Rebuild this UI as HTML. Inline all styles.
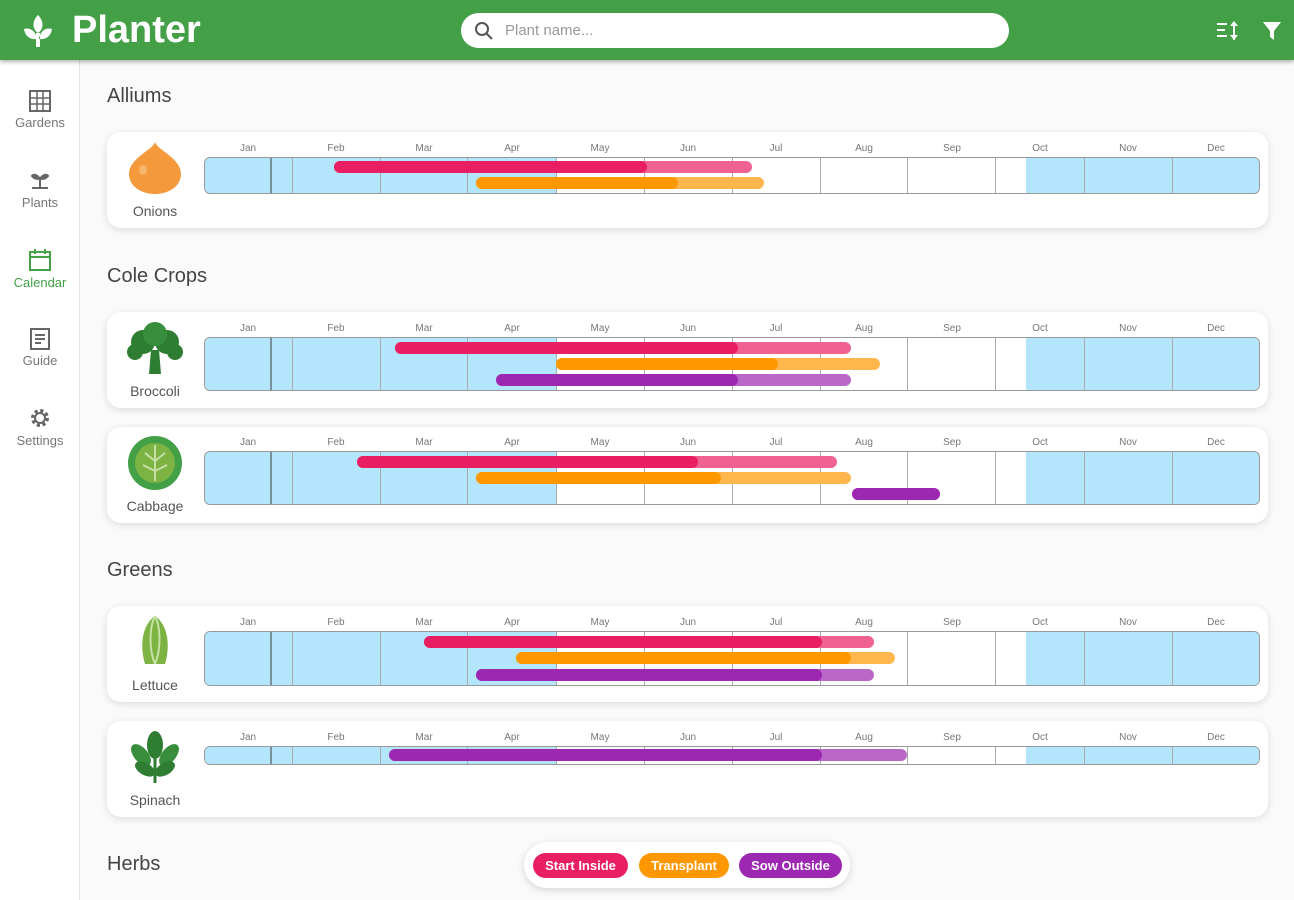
<!DOCTYPE html>
<html><head><meta charset="utf-8"><style>
*{box-sizing:border-box;margin:0;padding:0}
body{width:1294px;height:900px;overflow:hidden;background:#fafafa;font-family:"Liberation Sans",sans-serif;position:relative}
.hdr{position:absolute;left:0;top:0;width:1294px;height:60px;background:#43a047;box-shadow:0 2px 4px rgba(0,0,0,.3);z-index:5}
.logo{position:absolute;left:72px;top:9px;color:#fff;font-weight:bold;font-size:38px}
.search{position:absolute;left:461px;top:13px;width:548px;height:35px;background:#fff;border-radius:18px}
.search span{position:absolute;left:44px;top:9px;color:#999;font-size:15px}
.side{position:absolute;left:0;top:60px;width:80px;height:840px;background:#fff;border-right:1px solid #e4e4e4}
.nav{position:absolute;left:0;width:80px;text-align:center;font-size:13px;color:#777}
.h{position:absolute;left:107px;font-size:20px;color:#444}
.card{position:absolute;left:107px;width:1161px;background:#fff;border-radius:14px;box-shadow:0 2px 8px rgba(0,0,0,.12)}
.pl{position:absolute;width:96px;text-align:center;font-size:14px;color:#555}
.track{position:absolute;left:204px;width:1056px;border:1px solid #999;border-radius:6px;overflow:hidden;background:#fff}
.ml{position:absolute;font-size:10px;color:#777;width:40px;text-align:center}
.bar{position:absolute;height:12px;border-radius:6px}
.leg{position:absolute;left:524px;top:842px;width:326px;height:46px;background:#fff;border-radius:23px;box-shadow:0 2px 8px rgba(0,0,0,.15)}
.pill{position:absolute;top:11px;height:25px;border-radius:13px;color:#fff;font-size:13px;font-weight:bold;text-align:center;line-height:25px}
</style></head><body>
<div class="hdr">
<svg style="position:absolute;left:22px;top:13px" width="32" height="36" viewBox="0 0 32 36"><path d="M16 2 C10 8 10 16 16 20 C22 16 22 8 16 2Z M14 20h4v14h-4z M2 16 C8 14 14 18 15 26 C8 27 3 23 2 16Z M30 16 C24 14 18 18 17 26 C24 27 29 23 30 16Z" fill="#fff"/></svg>
<div class="logo">Planter</div>
<div class="search"><svg style="position:absolute;left:13px;top:8px" width="20" height="20"><circle cx="8" cy="8" r="6" stroke="#555" stroke-width="2" fill="none"/><line x1="12.5" y1="12.5" x2="18" y2="18" stroke="#555" stroke-width="2"/></svg><span>Plant name...</span></div>
<svg style="position:absolute;left:1216px;top:20px" width="26" height="22"><g stroke="#fff" stroke-width="2"><line x1="1" y1="4" x2="11" y2="4"/><line x1="1" y1="10" x2="9" y2="10"/><line x1="1" y1="16" x2="11" y2="16"/><line x1="18" y1="2" x2="18" y2="20"/></g><path d="M14 6l4-5 4 5zM14 15l4 5 4-5z" fill="#fff"/></svg>
<svg style="position:absolute;left:1262px;top:20px" width="20" height="22"><path d="M1 2h18l-7 9v9l-4-3v-6z" fill="#fff"/></svg>
</div>
<div class="side">
<div class="nav" style="top:30px"><svg width="24" height="22"><rect x="2" y="1" width="20" height="20" fill="none" stroke="#666" stroke-width="2"/><path d="M2 8h20M2 14h20M9 1v20M15 1v20" stroke="#666" stroke-width="1.5"/></svg><br>Gardens</div>
<div class="nav" style="top:110px"><svg width="24" height="22"><path d="M12 8v10M4 18h16M12 9C9 4 5 4 4 6c2 3 5 3 8 3zM12 9c3-5 7-5 8-3-2 3-5 3-8 3z" stroke="#666" stroke-width="2" fill="#666"/></svg><br>Plants</div>
<div class="nav" style="top:188px;color:#43a047"><svg width="24" height="24"><rect x="2" y="4" width="20" height="18" fill="none" stroke="#43a047" stroke-width="2"/><path d="M2 9h20M7 1v5M17 1v5" stroke="#43a047" stroke-width="2"/></svg><br>Calendar</div>
<div class="nav" style="top:268px"><svg width="24" height="22"><rect x="3" y="1" width="18" height="20" fill="none" stroke="#666" stroke-width="2"/><path d="M7 7h10M7 11h10M7 15h6" stroke="#666" stroke-width="2"/></svg><br>Guide</div>
<div class="nav" style="top:346px"><svg width="24" height="24"><circle cx="12" cy="12" r="7" fill="none" stroke="#666" stroke-width="4" stroke-dasharray="3 2.5"/><circle cx="12" cy="12" r="5" fill="none" stroke="#666" stroke-width="2"/></svg><br>Settings</div>
</div>
<div class="h" style="top:85px">Alliums</div>
<div class="h" style="top:265px">Cole Crops</div>
<div class="h" style="top:559px">Greens</div>
<div class="h" style="top:853px">Herbs</div>
<div id="root"></div>
<div class="leg">
<div class="pill" style="left:9px;width:95px;background:#e91e63">Start Inside</div>
<div class="pill" style="left:115px;width:90px;background:#ff9800">Transplant</div>
<div class="pill" style="left:215px;width:103px;background:#9c27b0">Sow Outside</div>
</div>
<script>
var M=["Jan","Feb","Mar","Apr","May","Jun","Jul","Aug","Sep","Oct","Nov","Dec"];
var lines=[292,380,467,556,644,732,820,907,995,1084,1172];
var C={p:["#e91e63","#f06292"],o:["#ff9800","#ffb74d"],u:["#9c27b0","#ba68c8"]};
var rows=[
{n:"Onions",cy:132,ty:157,th:37,ic:"onion",b:[["p",167,334,647,752],["o",183,476,678,764]]},
{n:"Broccoli",cy:312,ty:337,th:54,ic:"broc",b:[["p",348,395,738,851],["o",364,556,778,880],["u",380,496,738,851]]},
{n:"Cabbage",cy:427,ty:451,th:54,ic:"cab",b:[["p",462,357,698,837],["o",478,476,721,851],["u",494,852,940,940]]},
{n:"Lettuce",cy:606,ty:631,th:55,ic:"let",b:[["p",642,424,822,874],["o",658,516,851,895],["u",675,476,822,874]]},
{n:"Spinach",cy:721,ty:746,th:19,ic:"spin",b:[["u",755,389,822,907]]}];
var icons={
onion:'<svg width="60" height="56"><path d="M30 2C28 10 4 18 4 34c0 12 12 20 26 20s26-8 26-20C56 18 32 10 30 2z" fill="#f59a3c"/><ellipse cx="18" cy="30" rx="4" ry="5" fill="#f8b66a"/></svg>',
broc:'<svg width="60" height="56"><path d="M26 30h8l2 24h-12z" fill="#2e7d32"/><circle cx="18" cy="22" r="12" fill="#2e7d32"/><circle cx="42" cy="22" r="12" fill="#2e7d32"/><circle cx="30" cy="14" r="12" fill="#388e3c"/><circle cx="10" cy="32" r="8" fill="#2e7d32"/><circle cx="50" cy="32" r="8" fill="#2e7d32"/></svg>',
cab:'<svg width="60" height="56"><circle cx="30" cy="28" r="27" fill="#43a047"/><circle cx="30" cy="28" r="20" fill="#7cb342"/><path d="M30 10v36M30 26l-10-8M30 26l10-8M30 36l-12-6M30 36l12-6" stroke="#c5e1a5" stroke-width="2"/></svg>',
let:'<svg width="60" height="56"><path d="M30 2C18 10 14 30 20 50h20C46 30 42 10 30 2z" fill="#7cb342"/><path d="M30 2C24 14 24 36 30 50M30 2c6 12 6 34 0 48" stroke="#c5e1a5" stroke-width="2" fill="none"/></svg>',
spin:'<svg width="60" height="56"><path d="M30 54V26" stroke="#2e7d32" stroke-width="3"/><ellipse cx="30" cy="16" rx="8" ry="14" fill="#2e7d32"/><ellipse cx="16" cy="26" rx="7" ry="13" transform="rotate(-40 16 26)" fill="#388e3c"/><ellipse cx="44" cy="26" rx="7" ry="13" transform="rotate(40 44 26)" fill="#388e3c"/><ellipse cx="20" cy="40" rx="6" ry="11" transform="rotate(-60 20 40)" fill="#2e7d32"/><ellipse cx="40" cy="40" rx="6" ry="11" transform="rotate(60 40 40)" fill="#2e7d32"/></svg>'};
var h="";
rows.forEach(function(r){
h+='<div class="card" style="top:'+r.cy+'px;height:96px"></div>';
h+='<div style="position:absolute;left:125px;top:'+(r.cy+8)+'px">'+icons[r.ic]+'</div>';
h+='<div class="pl" style="left:107px;top:'+(r.cy+71)+'px">'+r.n+'</div>';
M.forEach(function(m,i){h+='<div class="ml" style="left:'+(228+i*88)+'px;top:'+(r.ty-14)+'px">'+m+'</div>';});
var t='<div class="track" style="top:'+r.ty+'px;height:'+r.th+'px">';
t+='<div style="position:absolute;left:0;top:0;width:352px;height:100%;background:#b3e5fc"></div>';
t+='<div style="position:absolute;left:821px;top:0;width:240px;height:100%;background:#b3e5fc"></div>';
lines.forEach(function(x){t+='<div style="position:absolute;left:'+(x-205)+'px;top:0;width:1px;height:100%;background:#aaa"></div>';});
t+='<div style="position:absolute;left:65px;top:0;width:2px;height:100%;background:#78909c"></div>';
t+='</div>';h+=t;
r.b.forEach(function(b){var c=C[b[0]];
h+='<div class="bar" style="top:'+(b[1]-6)+'px;left:'+b[2]+'px;width:'+(b[4]-b[2])+'px;background:'+c[1]+'"></div>';
h+='<div class="bar" style="top:'+(b[1]-6)+'px;left:'+b[2]+'px;width:'+(b[3]-b[2])+'px;background:'+c[0]+'"></div>';});
});
document.getElementById("root").innerHTML=h;
</script>
</body></html>
